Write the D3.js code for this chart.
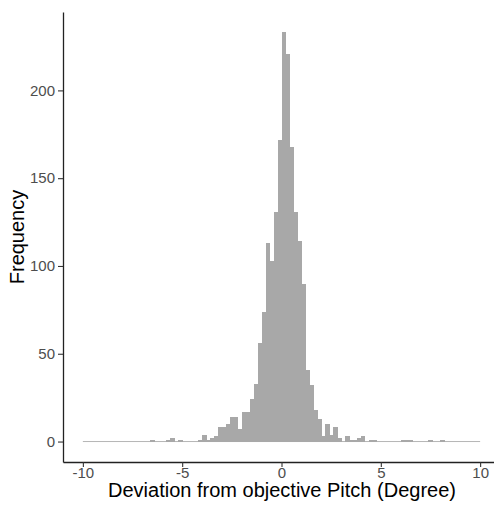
<!DOCTYPE html>
<html>
<head>
<meta charset="utf-8">
<script src="https://cdn.jsdelivr.net/npm/d3@7"></script>
<style>
  body { margin: 0; background: #fff; }
  svg { display: block; font-family: "Liberation Sans", Arial, sans-serif; }
</style>
</head>
<body>
<script>
// histogram bins (width 0.2), only the non-empty ones
var binStart = [-6.6, -5.8, -5.6, -5.2, -4.2, -4.0, -3.8, -3.6, -3.4, -3.2,
                -3.0, -2.8, -2.6, -2.4, -2.2, -2.0, -1.8, -1.6, -1.4, -1.2,
                -1.0, -0.8, -0.6, -0.4, -0.2, 0.0, 0.2, 0.4, 0.6, 0.8,
                1.0, 1.2, 1.4, 1.6, 1.8, 2.0, 2.2, 2.4, 2.6, 2.8,
                3.2, 3.4, 3.6, 3.8, 4.0, 4.4, 4.6, 6.0, 6.2, 6.4,
                7.4, 8.0];
var binCount = [1, 1, 2, 1, 1, 4, 1, 2, 3, 8,
                8, 10, 14, 14, 7, 17, 17, 24, 33, 56,
                74, 113, 103, 131, 172, 233, 221, 168, 131, 114,
                90, 41, 32, 18, 13, 3, 10, 4, 8, 2,
                3, 1, 1, 2, 3, 1, 1, 1, 1, 1,
                1, 1];
var binWidth = 0.2;
var histRange = [-10, 10];

var xTicks = [-10, -5, 0, 5, 10];
var yTicks = [0, 50, 100, 150, 200];

var xTitle = "Deviation from objective Pitch (Degree)";
var yTitle = "Frequency";

var w = 494,
    h = 505;
var panelLeft = 63, panelTop = 12, panelBottom = 462, panelRight = 500;

var svg = d3.select("body").append("svg")
    .attr("width", w)
    .attr("height", h);

var x = d3.scaleLinear().domain([-11, 11]).range([panelLeft, panelRight]);
var y = d3.scaleLinear().domain([-11.65, 244.65]).range([panelBottom, panelTop]);

var bins = binStart.map((s, i) => ({x0: s, x1: s + binWidth, n: binCount[i]}));

// zero line under the empty bins
svg.append("line")
    .attr("x1", x(histRange[0]))
    .attr("x2", x(histRange[1]))
    .attr("y1", y(0))
    .attr("y2", y(0))
    .attr("stroke", "#b5b5b5")
    .attr("stroke-width", 1);

svg.append("g")
    .attr("shape-rendering", "crispEdges")
    .selectAll("rect")
    .data(bins)
    .enter().append("rect")
    .attr("x", d => x(d.x0))
    .attr("width", d => x(d.x1) - x(d.x0) + 0.5)
    .attr("y", d => y(d.n))
    .attr("height", d => y(0) - y(d.n) + 0.5)
    .attr("fill", "#a8a8a8");

var xAxis = svg.append("g")
    .attr("transform", "translate(0," + panelBottom + ")")
    .call(d3.axisBottom(x).tickValues(xTicks).tickFormat(d => String(d))
        .tickSize(5).tickSizeOuter(0).tickPadding(0));

var yAxis = svg.append("g")
    .attr("transform", "translate(" + panelLeft + ",0)")
    .call(d3.axisLeft(y).tickValues(yTicks).tickFormat(d => String(d))
        .tickSize(5).tickSizeOuter(0).tickPadding(3));

[xAxis, yAxis].forEach(g => {
    g.select(".domain").attr("stroke", "#222").attr("stroke-width", 1.3);
    g.selectAll(".tick line").attr("stroke", "#333").attr("stroke-width", 1.1);
    g.selectAll(".tick text")
        .attr("fill", "#4d4d4d")
        .style("font-size", "15px")
        .style("font-family", "'Liberation Sans', Arial, sans-serif");
});

svg.append("text")
    .attr("x", 282)
    .attr("y", 497)
    .attr("text-anchor", "middle")
    .style("font-size", "20px")
    .attr("fill", "#000")
    .text(xTitle);

svg.append("text")
    .attr("transform", "translate(24," + (panelTop + panelBottom) / 2 + ") rotate(-90)")
    .attr("text-anchor", "middle")
    .style("font-size", "20px")
    .attr("fill", "#000")
    .text(yTitle);
</script>
</body>
</html>
